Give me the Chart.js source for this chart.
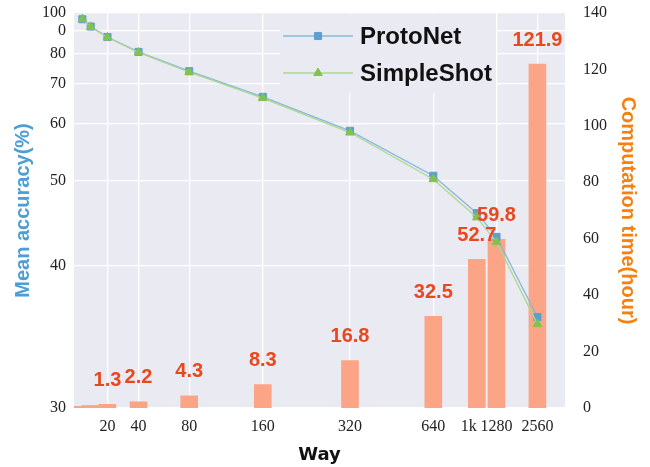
<!DOCTYPE html>
<html lang="en">
<head>
<meta charset="UTF-8" />
<title>ProtoNet vs SimpleShot, accuracy and time by way</title>
<script src="https://cdn.jsdelivr.net/npm/chart.js@4"></script>
<style>
  html, body { margin: 0; padding: 0; background: #fff; }
  #wrap { width: 650px; height: 467px; position: relative; }
</style>
</head>
<body>
<div id="wrap"><canvas id="chart"></canvas></div>
<script>
// data
const ways = [5, 10, 20, 40, 80, 160, 320, 640, 1000, 1280, 2560];
const protoNetAcc = [96.4, 92.2, 87.2, 80.9, 74.3, 66.8, 58.8, 50.9, 46.2, 43.4, 36.4];
const simpleShotAcc = [96.5, 92.0, 87.0, 80.7, 74.0, 66.5, 58.5, 50.3, 45.7, 42.8, 35.9];
const hours = [0.6, 0.9, 1.3, 2.2, 4.3, 8.3, 16.8, 32.5, 52.7, 59.8, 121.9];
const firstLabeledBar = 2; // the two smallest bars carry no number

const wayTicks = [20, 40, 80, 160, 320, 640, 1000, 1280, 2560];
// "1k" sits a little left of its bar in the original, the padding spaces push it there
const wayTickLabels = ['20', '40', '80', '160', '320', '640', '1k\u00a0\u00a0\u00a0\u00a0', '1280', '2560'];
const accTicks = [30, 40, 50, 60, 70, 80, 90, 100];
const accTickLabels = ['30', '40', '50', '60', '70', '80', '0', '100'];

// the original axes are neither linear nor log: where a value sits along the axis (0..1)
const axisWarp = {
  x: { values: [0, 20, 40, 80, 160, 320, 640, 1000, 1280, 2560, 3430],
       positions: [0, .0682, .1314, .2346, .3845, .5621, .7318, .8204, .8605, .9438, 1],
       ticks: wayTicks },
  y: { values: accTicks,
       positions: [0, .360, .575, .719, .820, .896, .956, 1],
       ticks: accTicks }
};

class WarpScale extends Chart.LinearScale {
  buildTicks() {
    return axisWarp[this.id].ticks.map(v => ({ value: v }));
  }
  getPixelForValue(value) {
    const { values, positions } = axisWarp[this.id];
    const n = values.length;
    let d;
    if (value <= values[0]) d = positions[0];
    else if (value >= values[n - 1]) d = positions[n - 1];
    else {
      let i = 0;
      while (value > values[i + 1]) i++;
      const t = (value - values[i]) / (values[i + 1] - values[i]);
      d = positions[i] + t * (positions[i + 1] - positions[i]);
    }
    return this.getPixelForDecimal(d);
  }
  getValueForPixel(pixel) {
    const { values, positions } = axisWarp[this.id];
    const d = this.getDecimalForPixel(pixel);
    let i = 0;
    while (i < positions.length - 2 && d > positions[i + 1]) i++;
    const t = (d - positions[i]) / (positions[i + 1] - positions[i]);
    return values[i] + t * (values[i + 1] - values[i]);
  }
}
WarpScale.id = 'warp';
WarpScale.defaults = Chart.LinearScale.defaults;
Chart.register(WarpScale);

const BLUE = '#5d9fd1', BLUE_LINE = '#86b8de';
const GREEN = '#82c24f', GREEN_LINE = '#add88c';
const BAR = '#fca486';
const LABEL_RED = '#e8481c';
const PLOT_BG = '#eaeaf2';
const tickFont = { family: 'Liberation Serif', size: 16 };

// no extra room for tick labels, the layout padding handles it
const noPad = s => { s.paddingTop = 0; s.paddingBottom = 0; s.paddingLeft = 0; s.paddingRight = 0; };

// plot background
const plotBg = {
  id: 'plotBg',
  beforeDraw(chart) {
    const { ctx, chartArea: a } = chart;
    ctx.save();
    ctx.fillStyle = PLOT_BG;
    ctx.fillRect(a.left, a.top, a.right - a.left, a.bottom - a.top);
    ctx.restore();
  }
};

// numbers above the bars + legend in the top of the plot
const overlay = {
  id: 'overlay',
  afterDatasetsDraw(chart) {
    const { ctx, chartArea: a } = chart;
    ctx.save();

    // legend box, same colour as the plot so it hides the grid
    ctx.fillStyle = PLOT_BG;
    ctx.fillRect(280, a.top + 1, 216, 92 - a.top);
    const items = [chart.data.datasets[0], chart.data.datasets[1]];
    items.forEach((ds, k) => {
      const y = 36 + k * 37;
      ctx.strokeStyle = ds.borderColor;
      ctx.lineWidth = ds.borderWidth;
      ctx.beginPath();
      ctx.moveTo(283, y);
      ctx.lineTo(353, y);
      ctx.stroke();
      ctx.fillStyle = ds.pointBackgroundColor;
      ctx.strokeStyle = ds.pointBorderColor;
      ctx.lineWidth = 1;
      Chart.helpers.drawPoint(ctx, { pointStyle: ds.pointStyle, radius: ds.pointRadius, borderWidth: 1, rotation: 0 }, 318, y);
      ctx.fillStyle = '#111';
      ctx.font = 'bold 24px "Liberation Sans"';
      ctx.textAlign = 'left';
      ctx.textBaseline = 'middle';
      ctx.fillText(ds.label, 360, y + 1);
    });

    const meta = chart.getDatasetMeta(2);
    ctx.fillStyle = LABEL_RED;
    ctx.font = 'bold 20px "Liberation Sans"';
    ctx.textAlign = 'center';
    ctx.textBaseline = 'middle';
    meta.data.forEach((bar, i) => {
      if (i < firstLabeledBar) return;
      ctx.fillText(hours[i].toFixed(1), bar.x, bar.y - 24);
    });
    ctx.restore();
  }
};

new Chart(document.getElementById('chart'), {
  type: 'line',
  data: {
    datasets: [
      {
        label: 'ProtoNet',
        data: ways.map((w, i) => ({ x: w, y: protoNetAcc[i] })),
        yAxisID: 'y',
        borderColor: BLUE_LINE,
        borderWidth: 1.3,
        pointStyle: 'rect',
        pointRadius: 5,
        pointBackgroundColor: BLUE,
        pointBorderColor: BLUE,
        pointBorderWidth: 1,
        order: 2
      },
      {
        label: 'SimpleShot',
        data: ways.map((w, i) => ({ x: w, y: simpleShotAcc[i] })),
        yAxisID: 'y',
        borderColor: GREEN_LINE,
        borderWidth: 1.3,
        pointStyle: 'triangle',
        pointRadius: 5,
        pointBackgroundColor: GREEN,
        pointBorderColor: GREEN,
        pointBorderWidth: 1,
        order: 1
      },
      {
        type: 'bar',
        label: 'Computation time',
        data: ways.map((w, i) => ({ x: w, y: hours[i] })),
        yAxisID: 'y2',
        backgroundColor: BAR,
        barThickness: 17,
        order: 3
      }
    ]
  },
  options: {
    responsive: true,
    maintainAspectRatio: false,
    animation: false,
    layout: { padding: { top: 13, left: 0, right: 0, bottom: 0 } },
    plugins: { legend: { display: false }, tooltip: { enabled: false } },
    scales: {
      x: {
        type: 'warp',
        min: 0,
        max: 3430,
        offset: false,
        border: { display: false },
        grid: {
          color: c => (c.tick && c.tick.value === 1000 ? 'rgba(0,0,0,0)' : '#fff'),
          lineWidth: 1.3, drawTicks: false, offset: false
        },
        ticks: {
          autoSkip: false, maxRotation: 0, padding: 9,
          color: '#222', font: tickFont,
          callback: (v, i) => wayTickLabels[i]
        },
        title: {
          display: true, text: 'Way', color: '#111',
          font: { family: 'DejaVu Sans', size: 18, weight: 'bold' },
          padding: { top: 0, bottom: 1 }
        },
        afterFit: s => { noPad(s); s.height = 59; }
      },
      y: {
        type: 'warp',
        position: 'left',
        min: 30,
        max: 100,
        border: { display: false },
        grid: { color: '#fff', lineWidth: 1.3, drawTicks: false },
        ticks: {
          autoSkip: false, padding: 8,
          color: '#222', font: tickFont,
          callback: (v, i) => accTickLabels[i]
        },
        title: {
          display: true, text: 'Mean accuracy(%)', color: '#4c9ed3',
          font: { family: 'Liberation Sans', size: 20, weight: 'bold' },
          padding: { top: 11, bottom: 0 }
        },
        afterFit: s => { noPad(s); s.width = 74; }
      },
      y2: {
        type: 'linear',
        position: 'right',
        min: 0,
        max: 140,
        border: { display: false },
        grid: { display: false, drawTicks: false },
        ticks: { stepSize: 20, padding: 18, color: '#222', font: tickFont },
        title: {
          display: true, text: 'Computation time(hour)', color: '#f7800f',
          font: { family: 'Liberation Sans', size: 20, weight: 'bold' },
          padding: { top: 10, bottom: 0 }
        },
        afterFit: s => { noPad(s); s.width = 85; }
      }
    }
  },
  plugins: [plotBg, overlay]
});
</script>
</body>
</html>
